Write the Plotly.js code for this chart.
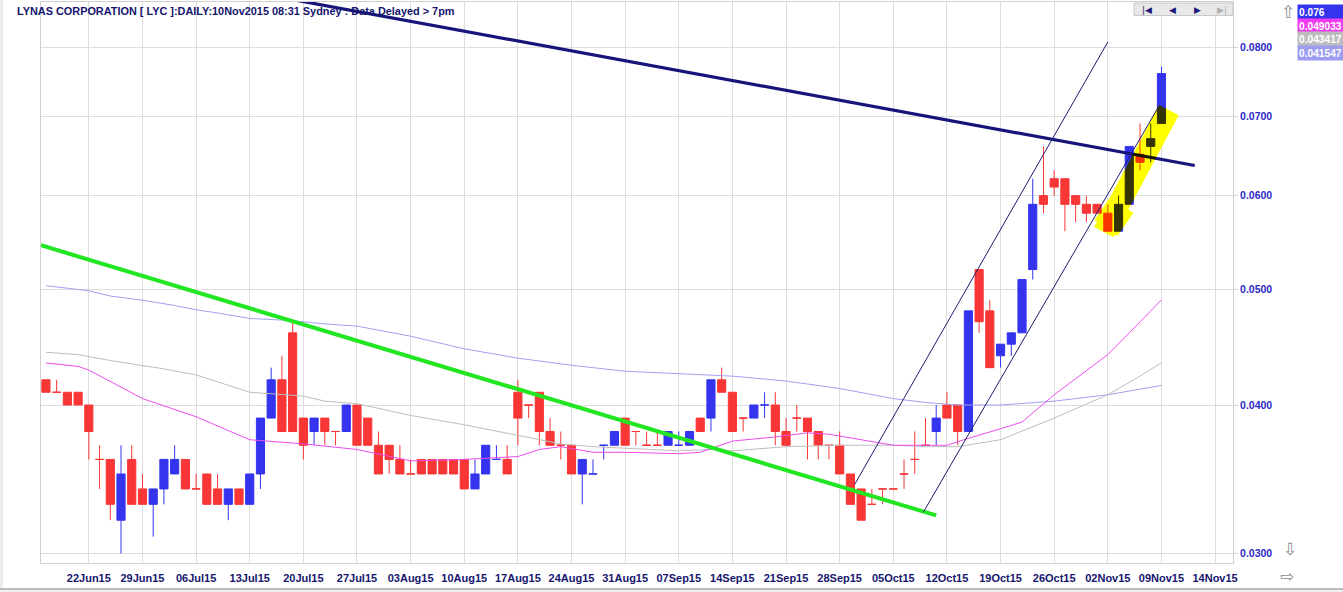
<!DOCTYPE html>
<html>
<head>
<meta charset="utf-8">
<script src="https://cdn.plot.ly/plotly-3.0.1.min.js"></script>
<style>
html,body{margin:0;padding:0;background:#fff;overflow:hidden;}
#chart{width:1343px;height:592px;}
</style>
</head>
<body>
<div id="chart"></div>
<script>
// ---------- DATA ----------
const dates = [
'2015-06-16','2015-06-17','2015-06-18','2015-06-19',
'2015-06-22','2015-06-23','2015-06-24','2015-06-25','2015-06-26',
'2015-06-29','2015-06-30','2015-07-01','2015-07-02','2015-07-03',
'2015-07-06','2015-07-07','2015-07-08','2015-07-09','2015-07-10',
'2015-07-13','2015-07-14','2015-07-15','2015-07-16','2015-07-17',
'2015-07-20','2015-07-21','2015-07-22','2015-07-23','2015-07-24',
'2015-07-27','2015-07-28','2015-07-29','2015-07-30','2015-07-31',
'2015-08-03','2015-08-04','2015-08-05','2015-08-06','2015-08-07',
'2015-08-10','2015-08-11','2015-08-12','2015-08-13','2015-08-14',
'2015-08-17','2015-08-18','2015-08-19','2015-08-20','2015-08-21',
'2015-08-24','2015-08-25','2015-08-26','2015-08-27','2015-08-28',
'2015-08-31','2015-09-01','2015-09-02','2015-09-03','2015-09-04',
'2015-09-07','2015-09-08','2015-09-09','2015-09-10','2015-09-11',
'2015-09-14','2015-09-15','2015-09-16','2015-09-17','2015-09-18',
'2015-09-21','2015-09-22','2015-09-23','2015-09-24','2015-09-25',
'2015-09-28','2015-09-29','2015-09-30','2015-10-01','2015-10-02',
'2015-10-05','2015-10-06','2015-10-07','2015-10-08','2015-10-09',
'2015-10-12','2015-10-13','2015-10-14','2015-10-15','2015-10-16',
'2015-10-19','2015-10-20','2015-10-21','2015-10-22','2015-10-23',
'2015-10-26','2015-10-27','2015-10-28','2015-10-29','2015-10-30',
'2015-11-02','2015-11-03','2015-11-04','2015-11-05','2015-11-06',
'2015-11-09'];
const futureDates = ['2015-11-10','2015-11-11','2015-11-12','2015-11-13','2015-11-14'];

const openP = [
.042,.041,.041,.041,.040,.036,.036,.032,.036,.034,
.033,.034,.035,.036,.034,.035,.034,.033,.034,.033,
.035,.039,.042,.046,.039,.038,.039,.038,.038,.040,
.039,.037,.037,.036,.035,.036,.036,.036,.036,.036,
.034,.035,.036,.036,.041,.040,.041,.038,.037,.037,
.035,.035,.037,.037,.039,.038,.037,.037,.037,.037,
.037,.039,.039,.042,.041,.039,.039,.040,.040,.038,
.039,.039,.038,.037,.037,.035,.034,.033,.034,.034,
.035,.036,.037,.038,.040,.040,.038,.052,.048,.044,
.045,.046,.052,.060,.062,.062,.060,.059,.059,.058,
.056,.059,.065,.066,.069];
const highP = [
.042,.042,.041,.041,.040,.037,.036,.037,.037,.035,
.034,.036,.037,.036,.035,.035,.035,.034,.034,.035,
.039,.043,.044,.047,.039,.039,.039,.038,.040,.040,
.039,.038,.037,.037,.036,.036,.036,.036,.036,.036,
.036,.037,.037,.037,.042,.040,.041,.039,.038,.037,
.036,.036,.037,.038,.039,.038,.038,.038,.038,.038,
.038,.039,.042,.043,.041,.039,.040,.041,.041,.039,
.040,.039,.038,.037,.038,.035,.034,.034,.034,.034,
.036,.038,.039,.040,.041,.040,.048,.052,.049,.045,
.046,.051,.062,.066,.063,.062,.060,.060,.059,.059,
.060,.066,.069,.069,.077];
const lowP = [
.041,.041,.040,.040,.036,.034,.032,.030,.033,.033,
.031,.033,.035,.034,.034,.033,.033,.032,.033,.033,
.034,.039,.038,.038,.036,.037,.037,.037,.038,.037,
.037,.035,.035,.035,.035,.035,.035,.035,.035,.034,
.034,.035,.036,.035,.037,.039,.037,.037,.036,.035,
.033,.035,.036,.037,.037,.037,.037,.037,.037,.037,
.037,.038,.038,.041,.038,.038,.039,.039,.037,.037,
.038,.036,.036,.036,.035,.033,.032,.033,.033,.034,
.034,.035,.037,.037,.039,.037,.038,.046,.043,.043,
.044,.046,.051,.058,.060,.056,.057,.057,.058,.056,
.056,.059,.063,.064,.069];
const closeP = [
.041,.041,.040,.040,.038,.036,.033,.035,.033,.033,
.034,.036,.036,.034,.034,.033,.033,.034,.033,.035,
.039,.042,.038,.038,.037,.039,.038,.038,.040,.037,
.037,.035,.036,.035,.035,.035,.035,.035,.035,.034,
.035,.037,.036,.035,.039,.040,.038,.037,.037,.035,
.036,.035,.037,.038,.037,.038,.037,.037,.038,.037,
.038,.038,.042,.041,.038,.039,.040,.040,.038,.037,
.039,.038,.037,.037,.035,.033,.032,.033,.034,.034,
.035,.036,.037,.039,.039,.038,.048,.047,.043,.045,
.046,.051,.059,.059,.061,.059,.059,.058,.058,.056,
.059,.066,.064,.067,.076];
// candle colour as drawn in the chart: U = blue, D = red
const candleDir = ('DDDDDDDUDD'+'UUUDDDDUDU'+'UUDDDUDDUD'+'DDDDDDDDDD'+'UUUDDDDDDD'+
                   'UUUUDDDDUU'+'UDUDDDUUDD'+'DDDDDDDDDD'+'DDDUDDUDDU'+'UUUDDDDDDD'+'UUDUU').split('');

// moving averages
const maMagentaDates = ['2015-06-16','2015-06-19','2015-06-22','2015-06-29','2015-07-06','2015-07-13','2015-07-20','2015-07-27',
 '2015-08-03','2015-08-10','2015-08-17','2015-08-19','2015-08-21','2015-08-26','2015-08-31','2015-09-07','2015-09-09',
 '2015-09-14','2015-09-18','2015-09-23','2015-09-25','2015-09-30','2015-10-05','2015-10-12','2015-10-14','2015-10-19',
 '2015-10-21','2015-10-26','2015-11-02','2015-11-04','2015-11-09'];
const maMagenta = [0.0434,0.0431,0.0428,0.0405,0.0391,0.0374,0.0371,0.0367,
 0.0359,0.0360,0.0362,0.0367,0.0369,0.0365,0.0365,0.0364,0.0365,
 0.0373,0.0376,0.0379,0.0378,0.0374,0.0370,0.0370,0.0375,0.0382,
 0.0387,0.0408,0.0441,0.0460,0.049033];
const maGrayDates = ['2015-06-16','2015-06-19','2015-06-24','2015-07-01','2015-07-06','2015-07-13','2015-07-20','2015-07-22',
 '2015-07-27','2015-08-03','2015-08-10','2015-08-17','2015-08-21','2015-08-26','2015-08-31','2015-09-07','2015-09-10',
 '2015-09-14','2015-09-21','2015-09-28','2015-10-05','2015-10-08','2015-10-13','2015-10-19','2015-10-26','2015-11-02',
 '2015-11-05','2015-11-09'];
const maGray = [0.0443,0.0441,0.0436,0.0429,0.0424,0.0410,0.0407,0.0403,
 0.0401,0.0392,0.0385,0.0377,0.0371,0.0369,0.0368,0.0366,0.0367,
 0.0366,0.0369,0.0370,0.0370,0.0369,0.0369,0.0374,0.0390,0.0408,
 0.0423,0.043417];
const maBlueDates = ['2015-06-16','2015-06-22','2015-06-24','2015-06-29','2015-07-02','2015-07-06','2015-07-08','2015-07-13',
 '2015-07-17','2015-07-22','2015-07-27','2015-08-03','2015-08-10','2015-08-17','2015-08-24','2015-08-31','2015-09-07',
 '2015-09-14','2015-09-21','2015-09-28','2015-10-05','2015-10-08','2015-10-13','2015-10-19','2015-10-26','2015-11-02',
 '2015-11-09'];
const maBlue = [0.0504,0.0499,0.0494,0.0490,0.0485,0.0481,0.0478,0.0473,
 0.0471,0.0468,0.0466,0.0457,0.0446,0.0438,0.0432,0.0427,0.0425,
 0.0423,0.0419,0.0413,0.0405,0.0402,0.0400,0.0400,0.0403,0.0408,
 0.041547];

// hand-drawn lines: [trading-day slot, price]
const greenLineSlot = [-0.46, 83.0],  greenLinePrice = [0.0545, 0.0323];
const navyLineSlot  = [23.0, 107.1],  navyLinePrice  = [0.0877, 0.0636];
const chanUpSlot    = [75.4, 99.0],   chanUpPrice    = [0.0343, 0.0808];
const chanLowSlot   = [81.8, 103.7],  chanLowPrice   = [0.0325, 0.0712];
// highlighter strokes
const highlightSlot  = [98.64, 104.7];
const highlightPrice = [0.0559, 0.0708];
const highlight2Slot  = [98.83, 100.31];
const highlight2Price = [0.05635, 0.05892];

const tickDates  = ['2015-06-22','2015-06-29','2015-07-06','2015-07-13','2015-07-20','2015-07-27','2015-08-03',
 '2015-08-10','2015-08-17','2015-08-24','2015-08-31','2015-09-07','2015-09-14','2015-09-21','2015-09-28',
 '2015-10-05','2015-10-12','2015-10-19','2015-10-26','2015-11-02','2015-11-09','2015-11-14'];
const tickLabels = ['22Jun15','29Jun15','06Jul15','13Jul15','20Jul15','27Jul15','03Aug15','10Aug15','17Aug15',
 '24Aug15','31Aug15','07Sep15','14Sep15','21Sep15','28Sep15','05Oct15','12Oct15','19Oct15','26Oct15',
 '02Nov15','09Nov15','14Nov15'];
const priceTicks = [0.03,0.04,0.05,0.06,0.07,0.08];
const priceTickLabels = ['0.0300','0.0400','0.0500','0.0600','0.0700','0.0800'];
const legendValues = ['0.076','0.049033','0.043417','0.041547'];

// ---------- BUILD ----------
const allDates = dates.concat(futureDates);
const slot = d => allDates.indexOf(d);

const RED = '#f83636', BLUE = '#3434ee';
function candleTrace(dir, color){
  const x=[],o=[],h=[],l=[],c=[];
  dates.forEach((d,i)=>{ if(candleDir[i]===dir){x.push(slot(d));o.push(openP[i]);h.push(highP[i]);l.push(lowP[i]);c.push(closeP[i]);} });
  return {type:'candlestick', x:x, open:o, high:h, low:l, close:c, line:{width:1},
    increasing:{line:{color:color,width:1},fillcolor:color},
    decreasing:{line:{color:color,width:1},fillcolor:color},
    whiskerwidth:0, hoverinfo:'skip', showlegend:false};
}
function lineTrace(x,y,color,width){
  return {type:'scatter', mode:'lines', x:x, y:y, line:{color:color,width:width}, hoverinfo:'skip', showlegend:false};
}

const data = [
  candleTrace('D', RED),
  candleTrace('U', BLUE),
  lineTrace(maBlueDates.map(slot), maBlue, '#a0a0f0', 1),
  lineTrace(maGrayDates.map(slot), maGray, '#bdbdbd', 1),
  lineTrace(maMagentaDates.map(slot), maMagenta, '#ec4cec', 1),
  lineTrace(greenLineSlot, greenLinePrice, '#22e622', 4),
  lineTrace(navyLineSlot, navyLinePrice, '#15157a', 3.2),
  lineTrace(chanUpSlot, chanUpPrice, '#1c1c70', 1),
  lineTrace(chanLowSlot, chanLowPrice, '#1c1c70', 1),
  lineTrace(highlightSlot, highlightPrice, '#ffff00', 22),
  lineTrace(highlight2Slot, highlight2Price, '#ffff00', 28)
];

// pixel helpers for decorations outside the data area
const L=41, R=1233, T=2, B=563;
const px = x => (x-L)/(R-L);
const py = y => (B-y)/(B-T);

const annotations = [];
const boxColors = ['#3434ee','#ee3cee','#bcbcbc','#9c9cf0'];
const boxY = [12.3, 25.6, 39.3, 53.2];
legendValues.forEach((v,i)=>{
  annotations.push({xref:'paper',yref:'paper',x:px(1297),y:py(boxY[i]),xanchor:'left',yanchor:'middle',
    text:v, showarrow:false, align:'left', width:44, height:12, borderpad:1, bgcolor:boxColors[i],
    font:{family:'Liberation Sans, Arial, sans-serif',size:10.2,color:'#ffffff',weight:'bold'}});
});
const icon = (t,x,y,size,color)=>annotations.push({xref:'paper',yref:'paper',x:px(x),y:py(y),xanchor:'center',yanchor:'middle',
  text:t,showarrow:false,font:{family:'DejaVu Sans, sans-serif',size:size,color:color}});
icon('⇧',1288,12,17,'#8c8c8c');
icon('⇩',1290,549,17,'#8c8c8c');
icon('⇨',1287,576,17,'#8c8c8c');
icon('|◀',1147,10,9,'#1a1a7a');
icon('◀',1172,10,9,'#1a1a7a');
icon('▶',1197,10,9,'#1a1a7a');
icon('▶|',1222,10,9,'#b0b0b0');

const shapes = [
  {type:'rect',xref:'paper',yref:'paper',x0:px(1134),x1:px(1233),y0:py(15.5),y1:py(3),fillcolor:'#e8e8e8',line:{color:'#c8c8c8',width:1},layer:'above'},
  {type:'rect',xref:'paper',yref:'paper',x0:px(0),x1:px(3),y0:py(592),y1:py(0),fillcolor:'#ececec',line:{width:0}},
  {type:'rect',xref:'paper',yref:'paper',x0:px(0),x1:px(1343),y0:py(592),y1:py(589),fillcolor:'#eeeeee',line:{width:0}},
  {type:'line',xref:'paper',yref:'paper',x0:px(0),x1:px(1343),y0:py(589),y1:py(589),line:{color:'#a8a8a8',width:1.5}}
];

const axisFont = {family:'Liberation Sans, Arial, sans-serif', size:11, color:'#16166e', weight:'bold'};
const layout = {
  width:1343, height:592,
  margin:{l:L, r:1343-R, t:T, b:592-B, pad:0},
  paper_bgcolor:'#ffffff', plot_bgcolor:'#ffffff',
  showlegend:false, hovermode:false,
  boxgap:0.24, boxgroupgap:0,
  title:{text:'LYNAS CORPORATION [ LYC ]:DAILY:10Nov2015 08:31 Sydney : Data Delayed > 7pm',
    x:17/1343, xref:'container', xanchor:'left', y:1-11/592, yref:'container', yanchor:'middle',
    font:{family:'Liberation Sans, Arial, sans-serif', size:10.9, color:'#14146e', weight:'bold'}},
  xaxis:{type:'linear', range:[-0.46, 110.67], rangeslider:{visible:false},
    tickmode:'array', tickvals:tickDates.map(slot), ticktext:tickLabels, tickangle:0,
    showgrid:true, gridcolor:'#dddddd', gridwidth:1, zeroline:false,
    showline:true, mirror:true, linecolor:'#d0d0d0', linewidth:1,
    ticks:'outside', ticklen:5, tickcolor:'rgba(0,0,0,0)', tickfont:axisFont, fixedrange:true},
  yaxis:{type:'log', range:[-1.53082, -1.05900], side:'right',
    tickmode:'array', tickvals:priceTicks, ticktext:priceTickLabels,
    showgrid:true, gridcolor:'#dddddd', gridwidth:1, zeroline:false,
    showline:true, mirror:true, linecolor:'#d0d0d0', linewidth:1,
    ticks:'outside', ticklen:4, tickcolor:'#cfcfcf',
    tickfont:{family:'Liberation Sans, Arial, sans-serif', size:10.5, color:'#2a2ac8', weight:'bold'}, fixedrange:true},
  shapes:shapes, annotations:annotations
};

Plotly.newPlot('chart', data, layout, {displayModeBar:false, staticPlot:true}).then(gd=>{
  const tr = gd.querySelectorAll('.scatterlayer .trace');
  for(let k=tr.length-2;k<tr.length;k++){
    const t = tr[k]; if(!t) continue;
    t.style.mixBlendMode='multiply';
    t.querySelectorAll('path').forEach(p=>{ p.style.mixBlendMode='multiply'; });
  }
});
</script>
</body>
</html>
